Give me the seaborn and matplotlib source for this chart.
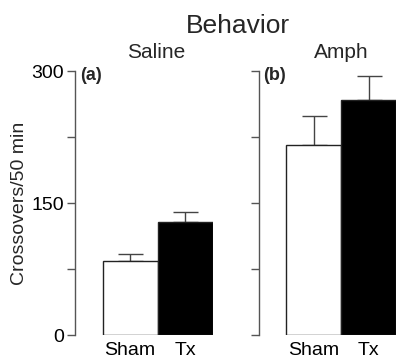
import matplotlib
matplotlib.use("Agg")
import matplotlib.pyplot as plt
import seaborn as sns
import pandas as pd
import numpy as np

sns.set_theme(style="ticks")
plt.rcParams['font.family'] = ['Liberation Sans', 'DejaVu Sans']

# Data
groups = ["Sham", "Tx"]
saline_mean = [84, 128]
saline_sem = [8, 12]
amph_mean = [216, 267]
amph_sem = [33, 27]
panel_titles = ["Saline", "Amph"]
panel_letters = ["(a)", "(b)"]
yticks_major = [0, 150, 300]
yticks_minor = [75, 225]

W, H = 398, 359
fig = plt.figure(figsize=(W / 100, H / 100), dpi=100)

def fx(px):
    return px / W

def fy(py):
    return 1 - py / H

ax_bottom = fy(335)
ax_h = (335 - 71) / H
ax_w = 137.5 / W
axes = [fig.add_axes([fx(75), ax_bottom, ax_w, ax_h]),
        fig.add_axes([fx(258.5), ax_bottom, ax_w, ax_h])]

spine_col = "#555555"
for i, (ax, means, sems) in enumerate(zip(axes, [saline_mean, amph_mean], [saline_sem, amph_sem])):
    df = pd.DataFrame({"group": groups, "value": means})
    sns.barplot(data=df, x="group", y="value", hue="group", palette=["white", "black"],
                width=1.0, edgecolor="#222222", linewidth=1.0, errorbar=None, legend=False, ax=ax)
    ax.errorbar([0, 1], means, yerr=[np.zeros(len(sems)), sems], fmt="none",
                ecolor="#444444", elinewidth=1.0, capsize=9, capthick=1.0, clip_on=False, zorder=1)
    for p in ax.patches:
        p.set_zorder(2)
    ax.set_xlim(-1.0, 1.5)
    ax.set_ylim(0, 300)
    ax.set_xlabel("")
    ax.set_ylabel("")
    ax.set_yticks(yticks_major + yticks_minor)
    if i == 0:
        ax.set_yticklabels([str(v) for v in yticks_major] + ["", ""], fontsize=14)
    else:
        ax.set_yticklabels([""] * 5)
    ax.set_xticks([0, 1])
    ax.set_xticklabels(groups, fontsize=14)
    ax.tick_params(axis="x", length=0, pad=5, colors="black")
    ax.tick_params(axis="y", length=6, width=1.0, color=spine_col, pad=2, labelcolor="black")
    for s in ["top", "right", "bottom"]:
        ax.spines[s].set_visible(False)
    ax.spines["left"].set_color(spine_col)
    ax.spines["left"].set_linewidth(1.0)
    ax.patch.set_alpha(0)

axes[0].set_ylabel("Crossovers/50 min", fontsize=14, labelpad=2)

fig.text(fx(238), fy(33), "Behavior", fontsize=19, ha="center", va="baseline")
fig.text(fx(156), fy(58), panel_titles[0], fontsize=15, ha="center", va="baseline")
fig.text(fx(341), fy(58), panel_titles[1], fontsize=15, ha="center", va="baseline")
fig.text(fx(80), fy(80), panel_letters[0], fontsize=13, fontweight="bold", ha="left", va="baseline")
fig.text(fx(263), fy(80), panel_letters[1], fontsize=13, fontweight="bold", ha="left", va="baseline")

fig.savefig("out.png", dpi=100)
